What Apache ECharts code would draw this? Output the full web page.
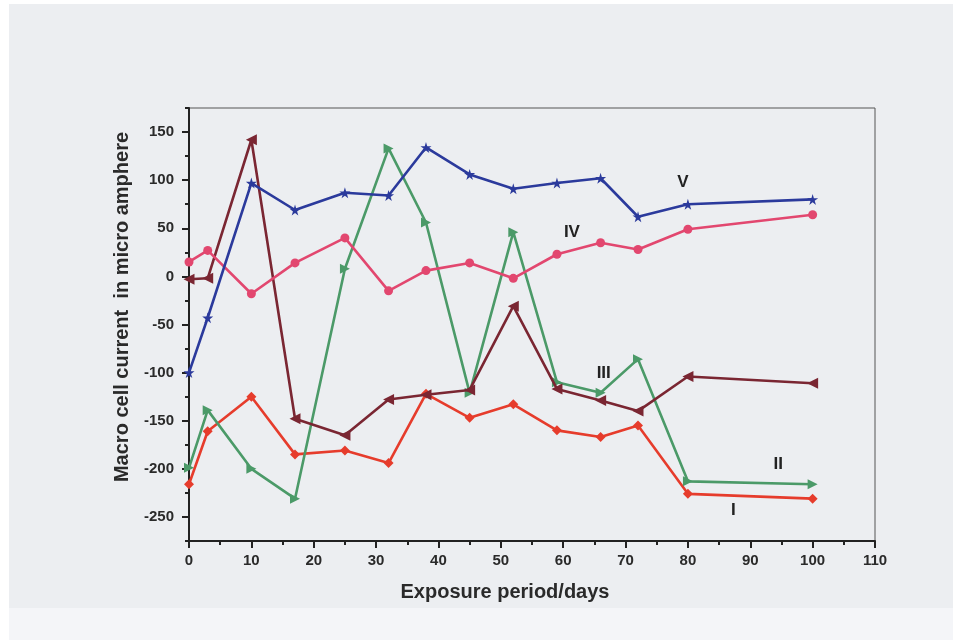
<!DOCTYPE html>
<html>
<head>
<meta charset="utf-8">
<script src="https://cdn.jsdelivr.net/npm/echarts@6/dist/echarts.min.js"></script>
<style>
html,body{margin:0;padding:0;background:#ffffff;}
#c{width:953px;height:640px;}
</style>
</head>
<body>
<div id="c"></div>
<script>
// Exposure period (days)
const days = [0, 3, 10, 17, 25, 32, 38, 45, 52, 59, 66, 72, 80, 100];
// Macro cell current (micro ampere)
const seriesI   = [-216, -161, -125, -185, -181, -194, -122, -147, -133, -160, -167, -155, -226, -231];
const seriesII  = [-199, -139, -200, -231, 8, 133, 56, -121, 46, -110, -121, -86, -213, -216];
const seriesIII = [-3, -2, 142, -148, -165, -128, -123, -118, -31, -117, -129, -140, -104, -111];
const seriesIV  = [15, 27, -18, 14, 40, -15, 6, 14, -2, 23, 35, 28, 49, 64];
const seriesV   = [-100, -43, 97, 69, 87, 84, 134, 106, 91, 97, 102, 62, 75, 80];
const seriesNames = ['I', 'II', 'III', 'IV', 'V'];
// curve label anchor points in data units [day, current]
const labelPos = [[87.3, -243], [94.5, -195], [66.5, -101], [61.4, 46], [79.2, 98]];
const yTickLabels = [-250, -200, -150, -100, -50, 0, 50, 100, 150];
const yMinorTicks = [-275, -225, -175, -125, -75, -25, 25, 75, 125, 175];
const xTitle = 'Exposure period/days';
const yTitle = 'Macro cell current  in micro amphere';

const colors = ['#e63c2c', '#4b9a68', '#7a2632', '#e2476f', '#2b3a9c'];
const symbols = [
  'diamond',
  'triangle',
  'triangle',
  'circle',
  'path://M50,0 L61,35 L98,35 L68,57 L79,91 L50,70 L21,91 L32,57 L2,35 L39,35 Z'
];
const rotations = [0, -90, 90, 0, 0];
const sizes = [10, 10, 11, 9, 11];
const allValues = [seriesI, seriesII, seriesIII, seriesIV, seriesV];

const pair = vals => days.map((d, i) => [d, vals[i]]);

const series = allValues.map((vals, k) => ({
  name: seriesNames[k],
  type: 'line',
  data: pair(vals),
  symbol: symbols[k],
  symbolRotate: rotations[k],
  symbolSize: sizes[k],
  showAllSymbol: true,
  lineStyle: { color: colors[k], width: 2.6 },
  itemStyle: { color: colors[k], borderWidth: 0 },
  z: 3 + k,
  markPoint: {
    symbol: 'circle',
    symbolSize: 1,
    silent: true,
    itemStyle: { color: 'rgba(0,0,0,0)' },
    label: {
      show: true,
      position: 'inside',
      formatter: seriesNames[k],
      color: '#222',
      fontFamily: 'Liberation Sans',
      fontWeight: 'bold',
      fontSize: 17
    },
    data: [{ coord: labelPos[k] }]
  }
}));

const fontBase = { fontFamily: 'Liberation Sans', fontWeight: 'bold', color: '#2a2a2a' };

const chart = echarts.init(document.getElementById('c'), null, { renderer: 'canvas' });
chart.setOption({
  animation: false,
  backgroundColor: '#ffffff',
  graphic: [
    { type: 'rect', shape: { x: 9, y: 4, width: 944, height: 604 }, style: { fill: '#eceef1' }, z: -10 },
    { type: 'rect', shape: { x: 9, y: 608, width: 944, height: 32 }, style: { fill: '#f4f5f8' }, z: -10 },
    { type: 'text', x: 505, y: 592, z: 10,
      style: { text: xTitle, textAlign: 'center', textVerticalAlign: 'middle',
               fontFamily: 'Liberation Sans', fontWeight: 'bold', fontSize: 20, fill: '#2a2a2a' } },
    { type: 'text', x: 122, y: 307, rotation: Math.PI / 2, z: 10,
      style: { text: yTitle, textAlign: 'center', textVerticalAlign: 'middle',
               fontFamily: 'Liberation Sans', fontWeight: 'bold', fontSize: 20, fill: '#2a2a2a' } }
  ],
  grid: {
    left: 189, right: 78, top: 108, bottom: 99,
    show: true, borderColor: '#555', borderWidth: 1, backgroundColor: 'transparent'
  },
  xAxis: {
    type: 'value', min: 0, max: 110, interval: 10,
    axisLine: { show: true, onZero: false, lineStyle: { color: '#222', width: 2 } },
    axisTick: { show: true, length: 7, inside: false, lineStyle: { color: '#222', width: 2 } },
    minorTick: { show: true, splitNumber: 2, length: 4, lineStyle: { color: '#222', width: 2 } },
    axisLabel: Object.assign({ fontSize: 15, margin: 12 }, fontBase),
    splitLine: { show: false }
  },
  yAxis: [{
    type: 'value', min: -275, max: 175, interval: 25,
    axisLine: { show: true, onZero: false, lineStyle: { color: '#222', width: 2 } },
    axisTick: { show: true, length: 7, customValues: yTickLabels, lineStyle: { color: '#222', width: 2 } },
    axisLabel: Object.assign({ fontSize: 15, margin: 15, customValues: yTickLabels }, fontBase),
    splitLine: { show: false }
  }, {
    type: 'value', min: -275, max: 175, interval: 25, position: 'left',
    axisLine: { show: false, onZero: false },
    axisTick: { show: true, length: 4, customValues: yMinorTicks, lineStyle: { color: '#222', width: 2 } },
    axisLabel: { show: false },
    splitLine: { show: false }
  }],
  series: series
});
</script>
</body>
</html>
